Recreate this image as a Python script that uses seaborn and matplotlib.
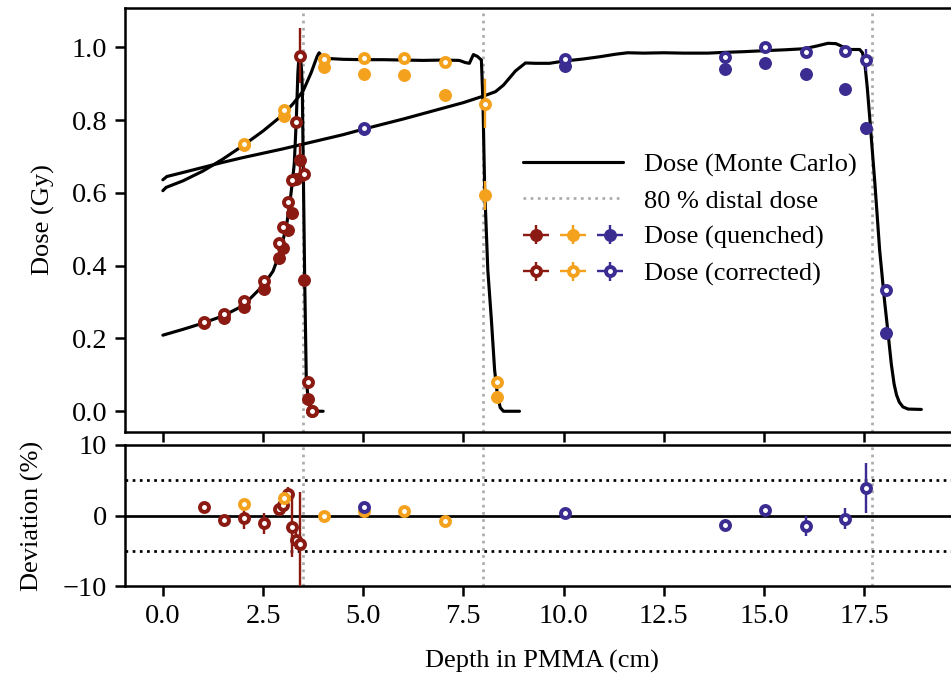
import numpy as np
import matplotlib
matplotlib.use("Agg")
import matplotlib.pyplot as plt
import seaborn as sns
from matplotlib.container import ErrorbarContainer
from matplotlib.legend_handler import HandlerErrorbar, HandlerTuple
from matplotlib.lines import Line2D

# ---------------- data ----------------
# Monte Carlo dose curves (three beam energies)
mc_low_depth = [0.0, 0.5, 1.0, 1.5, 2.0, 2.5, 2.75, 2.9, 3.0, 3.1, 3.2, 3.28, 3.33,
                3.37, 3.40, 3.43, 3.46, 3.48, 3.51, 3.54, 3.58, 3.64, 3.74, 4.0]
mc_low_dose = [0.209, 0.225, 0.242, 0.262, 0.29, 0.345, 0.385, 0.43, 0.47, 0.52, 0.60,
               0.68, 0.80, 0.93, 0.98, 0.975, 0.94, 0.89, 0.62, 0.36, 0.085, 0.02, 0.0, 0.0]

mc_mid_depth = [0.0, 0.08, 0.5, 1.0, 1.35, 1.5, 2.0, 2.5, 3.0, 3.25, 3.5, 3.7, 3.85, 3.9,
                4.0, 4.5, 5.0, 5.5, 6.0, 6.5, 7.0, 7.4, 7.55, 7.65, 7.75, 7.85, 7.95,
                7.99, 8.03, 8.11, 8.2, 8.28, 8.35, 8.42, 8.5, 8.9]
mc_mid_dose = [0.606, 0.615, 0.633, 0.66, 0.683, 0.693, 0.73, 0.77, 0.815, 0.845, 0.88,
               0.93, 0.975, 0.985, 0.970, 0.967, 0.966, 0.966, 0.965, 0.964, 0.965, 0.964,
               0.958, 0.956, 0.980, 0.975, 0.965, 0.846, 0.617, 0.388, 0.25, 0.113,
               0.045, 0.01, 0.0, 0.0]

mc_high_depth = [0.0, 0.1, 0.5, 1.0, 1.5, 2.0, 2.5, 3.0, 3.5, 4.0, 4.5, 5.0, 5.5, 6.0,
                 6.5, 7.0, 7.5, 8.0, 8.3, 8.5, 8.8, 9.05, 9.3, 9.65, 10.0, 10.5, 10.9,
                 11.3, 11.6, 12.0, 12.5, 13.0, 13.6, 14.0, 14.5, 15.06, 15.5, 16.0, 16.3,
                 16.6, 16.8, 17.0, 17.14, 17.39, 17.46, 17.52, 17.58, 17.64, 17.77, 17.89,
                 18.01, 18.1, 18.18, 18.25, 18.31, 18.38, 18.47, 18.6, 18.93]
mc_high_dose = [0.636, 0.645, 0.656, 0.670, 0.684, 0.697, 0.709, 0.721, 0.734, 0.747,
                0.760, 0.775, 0.789, 0.803, 0.818, 0.833, 0.848, 0.866, 0.878, 0.896,
                0.935, 0.957, 0.956, 0.956, 0.962, 0.968, 0.974, 0.981, 0.985, 0.984,
                0.985, 0.984, 0.984, 0.986, 0.988, 0.991, 0.993, 0.996, 1.003, 1.011,
                1.010, 1.000, 0.994, 0.994, 0.985, 0.955, 0.89, 0.809, 0.627, 0.442,
                0.305, 0.214, 0.13, 0.075, 0.045, 0.025, 0.012, 0.006, 0.005]

distal80 = [3.49, 7.98, 17.71]

# measured points
red_x = [1.02, 1.52, 2.02, 2.52, 2.91, 3.01, 3.12, 3.22, 3.33, 3.43, 3.52, 3.62, 3.72]
red_quenched = [0.242, 0.257, 0.287, 0.335, 0.420, 0.448, 0.497, 0.546, 0.638, 0.691,
                0.361, 0.033, 0.0]
red_corrected = [0.246, 0.267, 0.303, 0.358, 0.462, 0.506, 0.574, 0.636, 0.794, 0.977,
                 0.652, 0.081, 0.0]
red_err = [0.004, 0.004, 0.005, 0.005, 0.006, 0.007, 0.008, 0.012, 0.012, 0.075,
           0.023, 0.004, 0.0]

orange_x = [2.02, 3.02, 4.02, 5.03, 6.03, 7.03, 8.03, 8.34]
orange_quenched = [0.731, 0.812, 0.945, 0.928, 0.924, 0.870, 0.593, 0.039]
orange_corrected = [0.733, 0.827, 0.969, 0.971, 0.971, 0.960, 0.845, 0.081]
orange_err = [0.005, 0.006, 0.006, 0.007, 0.007, 0.006, 0.068, 0.004]

blue_x = [5.03, 10.04, 14.04, 15.04, 16.04, 17.03, 17.54, 18.04]
blue_quenched = [0.776, 0.949, 0.940, 0.956, 0.928, 0.885, 0.777, 0.216]
blue_corrected = [0.779, 0.967, 0.974, 1.002, 0.988, 0.991, 0.965, 0.332]
blue_err = [0.005, 0.004, 0.004, 0.007, 0.012, 0.013, 0.03, 0.006]

# deviations (%) of corrected dose from Monte Carlo
red_dev_x = [1.02, 1.52, 2.02, 2.52, 2.91, 3.01, 3.12, 3.22, 3.33, 3.43]
red_dev = [1.2, -0.57, -0.38, -1.1, 0.95, 1.5, 3.0, -1.65, -3.5, -4.1]
red_dev_err = [0.4, 0.5, 1.6, 1.5, 0.6, 0.7, 1.0, 4.3, 1.2, 7.5]

orange_dev_x = [2.02, 3.02, 4.02, 5.03, 6.03, 7.03]
orange_dev = [1.65, 2.5, -0.1, 0.7, 0.6, -0.85]
orange_dev_err = [0.4, 0.6, 0.4, 0.7, 0.6, 0.4]

blue_dev_x = [5.03, 10.04, 14.04, 15.04, 16.04, 17.03, 17.54]
blue_dev = [1.2, 0.38, -1.33, 0.71, -1.5, -0.47, 3.9]
blue_dev_err = [0.5, 0.3, 0.4, 0.75, 1.4, 1.5, 3.6]

x_ticks = [0.0, 2.5, 5.0, 7.5, 10.0, 12.5, 15.0, 17.5]
dose_ticks = [0.0, 0.2, 0.4, 0.6, 0.8, 1.0]
dev_ticks = [-10, 0, 10]

RED, ORANGE, BLUE = "#8B1A12", "#F4A21E", "#3A2C91"
GRAY = "#ababab"

# ---------------- style ----------------
sns.set_theme(style="ticks")
plt.rcParams["font.family"] = ["Liberation Serif", "DejaVu Serif"]
plt.rcParams.update({
    "font.size": 12.7, "axes.labelsize": 12.7, "xtick.labelsize": 13.6,
    "ytick.labelsize": 13.6, "legend.fontsize": 12.7,
    "axes.linewidth": 1.2, "axes.edgecolor": "black",
    "xtick.major.width": 1.2, "ytick.major.width": 1.2,
    "xtick.major.size": 5, "ytick.major.size": 5,
    "xtick.color": "black", "ytick.color": "black",
    "axes.labelcolor": "black", "text.color": "black",
    "xtick.direction": "out", "ytick.direction": "out",
})

W, H = 951, 676
fig = plt.figure(figsize=(W / 150, H / 150), dpi=150)
ax1 = fig.add_axes([125 / W, 1 - 432 / H, (958 - 125) / W, (432 - 8) / H])
ax2 = fig.add_axes([125 / W, 1 - 586 / H, (958 - 125) / W, (586 - 445) / H], sharex=ax1)

for ax in (ax1, ax2):
    for xd in distal80:
        ax.axvline(xd, color=GRAY, ls=":", lw=1.3, zorder=1)

for dep, dose in [(mc_low_depth, mc_low_dose), (mc_mid_depth, mc_mid_dose),
                  (mc_high_depth, mc_high_dose)]:
    sns.lineplot(x=dep, y=dose, color="black", lw=1.5, ax=ax1, legend=False,
                 estimator=None, sort=False, zorder=2)

MS_F, MEW_F = 5.6, 0.6
MS_O, MEW_O = 4.3, 1.9
ELW = 1.15


def pts(ax, x, y, err, color, open_):
    kw = dict(fmt="o", ecolor=color, elinewidth=ELW, capsize=0, zorder=4 if open_ else 3)
    if open_:
        kw.update(ms=MS_O, mfc="white", mec=color, mew=MEW_O)
    else:
        kw.update(ms=MS_F, mfc=color, mec=color, mew=MEW_F)
    return ax.errorbar(x, y, yerr=err, xerr=np.zeros(len(x)), **kw)


q_handles, c_handles = [], []
for x, q, c, e, col in [(red_x, red_quenched, red_corrected, red_err, RED),
                        (orange_x, orange_quenched, orange_corrected, orange_err, ORANGE),
                        (blue_x, blue_quenched, blue_corrected, blue_err, BLUE)]:
    q_handles.append(pts(ax1, x, q, np.array(e) * 0.6, col, False))
    c_handles.append(pts(ax1, x, c, e, col, True))

ax2.axhline(0, color="black", lw=1.3, zorder=2)
for yv in (-5, 5):
    ax2.axhline(yv, color="black", ls=":", lw=1.3, zorder=2)

for x, d, e, col in [(red_dev_x, red_dev, red_dev_err, RED),
                     (orange_dev_x, orange_dev, orange_dev_err, ORANGE),
                     (blue_dev_x, blue_dev, blue_dev_err, BLUE)]:
    pts(ax2, x, d, e, col, True)

ax1.set_xlim(-0.945, 19.845)
ax1.set_ylim(-0.057, 1.108)
ax2.set_ylim(-10, 10)
ax1.set_xticks(x_ticks)
ax1.set_yticks(dose_ticks)
ax2.set_yticks(dev_ticks)
ax1.tick_params(labelbottom=False)
ax1.set_ylabel("Dose (Gy)", labelpad=8)
ax2.set_ylabel("Deviation (%)", labelpad=9)
ax2.set_xlabel("Depth in PMMA (cm)", labelpad=10)

mc_handle = Line2D([], [], color="black", lw=1.5)
d80_handle = Line2D([], [], color=GRAY, ls=":", lw=1.3)
ax1.legend(handles=[mc_handle, d80_handle, tuple(q_handles), tuple(c_handles)],
           labels=["Dose (Monte Carlo)", "80 % distal dose", "Dose (quenched)",
                   "Dose (corrected)"],
           handler_map={tuple: HandlerTuple(ndivide=None),
                        ErrorbarContainer: HandlerErrorbar(xerr_size=0.5, yerr_size=0.36)},
           loc="upper left", bbox_to_anchor=(512 / W, 1 - 142 / H),
           bbox_transform=fig.transFigure, frameon=False, handlelength=3.8,
           labelspacing=0.48, borderaxespad=0)

fig.savefig("out.png", dpi=150)
